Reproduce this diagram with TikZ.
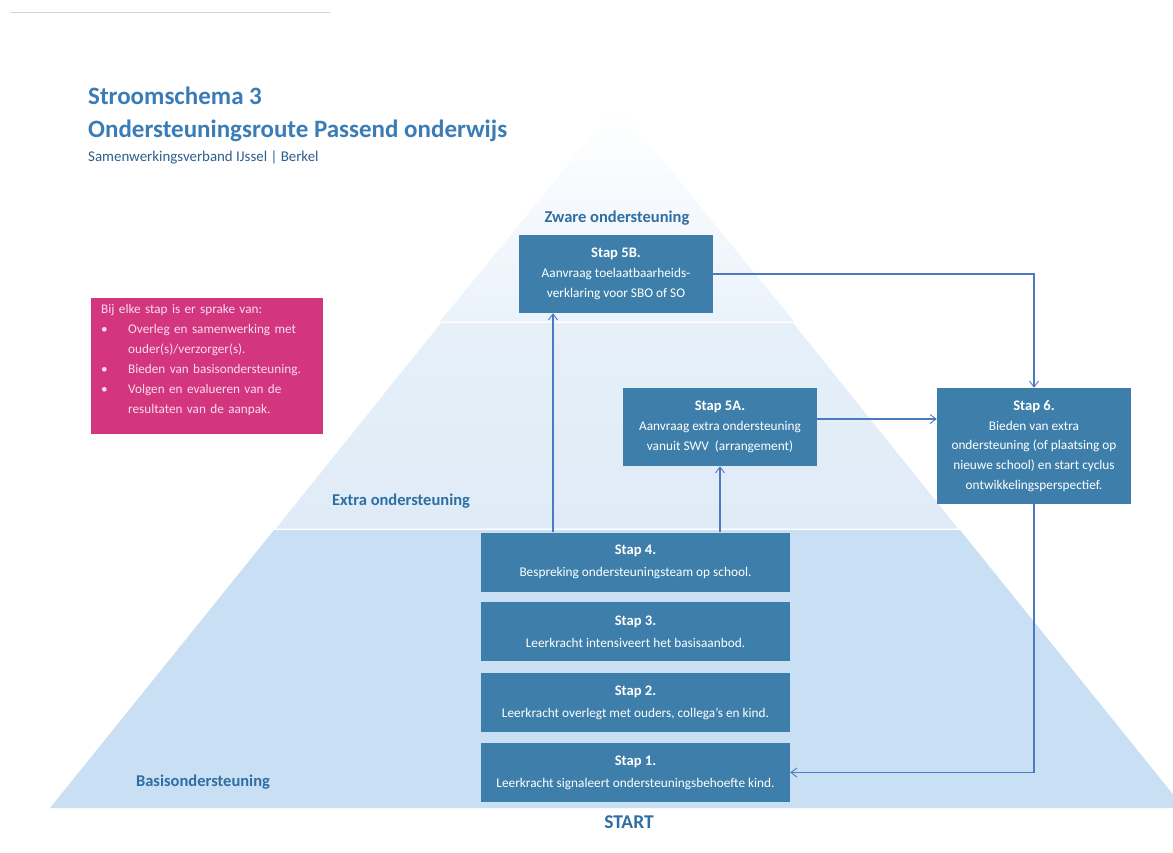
\documentclass[tikz,border=0pt]{standalone}
\usepackage{fontspec}
\setmainfont{Carlito}
\usetikzlibrary{arrows.meta,calc}
\definecolor{boxblue}{HTML}{3D7FAA}
\definecolor{titleblue}{HTML}{3A7DB6}
\definecolor{subblue}{HTML}{2E5E8C}
\definecolor{labblue}{HTML}{2F6EA3}
\definecolor{linkblue}{HTML}{4A7AC2}
\definecolor{magbox}{HTML}{D4357F}
\definecolor{magtext}{HTML}{F7DDEA}
\definecolor{layerbot}{HTML}{C8DFF4}
\definecolor{layermid}{HTML}{DFEBF7}
\definecolor{layertop}{HTML}{EAF2FA}
\tikzset{
  stepbox/.style={fill=boxblue, text=white, align=center, inner sep=0pt,
    font=\fontsize{13.3}{19.8}\selectfont},
  lowbox/.style={stepbox, minimum width=309pt, minimum height=59pt, font=\fontsize{13.3}{22}\selectfont},
  layerlab/.style={text=labblue, font=\fontsize{16.5}{19}\selectfont\bfseries, anchor=base},
  arr/.style={draw=linkblue, line width=1.1pt, -{Straight Barb[length=6pt,width=9pt,line width=0.9pt]}},
}
\newcommand{\sthead}[1]{{\fontsize{14.6}{19.8}\selectfont\bfseries #1}}
\begin{document}
\begin{tikzpicture}[x=1pt,y=-1pt]
\useasboundingbox (0,0) rectangle (1173,852);
\fill[white] (0,0) rectangle (1173,852);
% scan artefact line
\draw[black!18, line width=1pt] (10,12) -- (330,12);
% pyramid layers
\shade[top color=white, bottom color=layertop] (617,105) -- (440,321.5) -- (794,321.5) -- cycle;
\shade[top color=layertop!70!layermid, bottom color=layermid] (441,323) -- (793,323) -- (958,528.5) -- (276,528.5) -- cycle;
\fill[layerbot] (274,530) -- (960,530) -- (1184,808) -- (50,808) -- cycle;
% titles
\node[anchor=base west, text=titleblue, font=\fontsize{25}{28}\selectfont\bfseries, inner sep=0pt] (t1) at (88,104) {Stroomschema 3};
\node[anchor=base west, text=titleblue, font=\fontsize{25}{28}\selectfont\bfseries, inner sep=0pt] (t2) at (88,137) {Ondersteuningsroute Passend onderwijs};
\node[anchor=base west, text=subblue, font=\fontsize{14.9}{17}\selectfont, inner sep=0pt] (t3) at (88,161) {Samenwerkingsverband IJssel | Berkel};
% layer labels
\node[layerlab] (lz) at (617,222) {Zware ondersteuning};
\node[layerlab] (le) at (401,505) {Extra ondersteuning};
\node[layerlab] (lb) at (203,786) {Basisondersteuning};
\node[layerlab, font=\fontsize{19.5}{22}\selectfont\bfseries] (ls) at (629,828) {START};
% magenta box
\node[fill=magbox, text=magtext, anchor=north west, minimum width=232pt, minimum height=136pt,
  text width=212pt, inner xsep=10pt, inner ysep=5pt, align=left,
  font=\fontsize{13.2}{20}\selectfont] (mg) at (91,298)
  {Bij elke stap is er sprake van:\\
   \makebox[27pt][l]{\textbullet}Overleg en samenwerking met\\
   \hspace*{27pt}ouder(s)/verzorger(s).\\
   \makebox[27pt][l]{\textbullet}Bieden van basisondersteuning.\\
   \makebox[27pt][l]{\textbullet}Volgen en evalueren van de\\
   \hspace*{27pt}resultaten van de aanpak.\par\vspace*{12pt}};
% step boxes
\node[stepbox, minimum width=194pt, minimum height=78pt] (s5b) at (616,274)
  {\sthead{Stap 5B.}\\Aanvraag toelaatbaarheids-\\verklaring voor SBO of SO};
\node[stepbox, minimum width=194pt, minimum height=78pt] (s5a) at (720,427)
  {\sthead{Stap 5A.}\\Aanvraag extra ondersteuning\\vanuit SWV\ \ (arrangement)};
\node[stepbox, minimum width=194pt, minimum height=116pt] (s6) at (1034,446)
  {\sthead{Stap 6.}\\Bieden van extra\\ondersteuning (of plaatsing op\\nieuwe school) en start cyclus\\ontwikkelingsperspectief.};
\node[lowbox] (s4) at (635.5,562)
  {\sthead{Stap 4.}\\Bespreking ondersteuningsteam op school.};
\node[lowbox] (s3) at (635.5,631.5)
  {\sthead{Stap 3.}\\Leerkracht intensiveert het basisaanbod.};
\node[lowbox] (s2) at (635.5,702.5)
  {\sthead{Stap 2.}\\Leerkracht overlegt met ouders, collega's en kind.};
\node[lowbox] (s1) at (635.5,772.5)
  {\sthead{Stap 1.}\\Leerkracht signaleert ondersteuningsbehoefte kind.};
% connectors
\coordinate (cx1) at (553,0);
\coordinate (cy2) at (0,419);
\draw[arr] (s4.north -| cx1) -- (s5b.south -| cx1);
\draw[arr] (s4.north -| s5a.south) -- (s5a.south);
\draw[arr] (s5a.east |- cy2) -- (s6.west |- cy2);
\draw[arr] (s5b.east) -| (s6.north);
\draw[arr] (s6.south) |- (s1.east);
\end{tikzpicture}
\end{document}
